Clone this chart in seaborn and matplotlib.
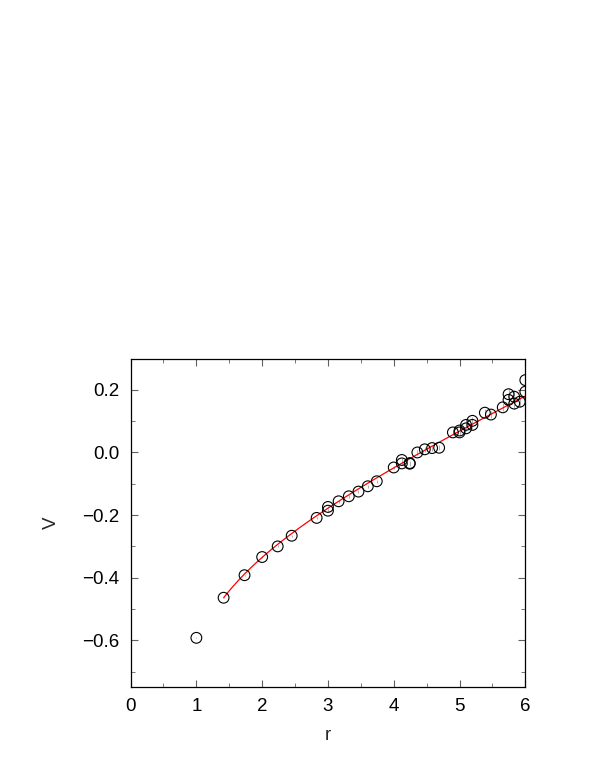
import numpy as np
import pandas as pd
import seaborn as sns
from matplotlib import pyplot as plt
from matplotlib.ticker import MultipleLocator

# lattice distances r and potential V
r_vals = [1.0, 1.414, 1.732, 2.0, 2.236, 2.449, 2.828, 3.0, 3.0, 3.162,
          3.317, 3.464, 3.606, 3.742, 4.0, 4.123, 4.123, 4.243, 4.243, 4.359,
          4.472, 4.583, 4.690, 4.899, 5.0, 5.0, 5.099, 5.099, 5.196, 5.196,
          5.385, 5.477, 5.657, 5.745, 5.745, 5.831, 5.831, 5.916, 6.0, 6.0]
v_vals = [-0.592, -0.464, -0.392, -0.334, -0.300, -0.266, -0.209, -0.174, -0.186, -0.156,
          -0.140, -0.125, -0.108, -0.092, -0.048, -0.035, -0.024, -0.036, -0.034, 0.000,
          0.010, 0.014, 0.015, 0.064, 0.064, 0.070, 0.077, 0.088, 0.088, 0.101,
          0.127, 0.121, 0.144, 0.186, 0.168, 0.178, 0.156, 0.162, 0.194, 0.231]
v_err = [0.002, 0.002, 0.002, 0.002, 0.003, 0.003, 0.003, 0.004, 0.004, 0.004,
         0.004, 0.005, 0.005, 0.005, 0.006, 0.006, 0.006, 0.007, 0.007, 0.007,
         0.008, 0.008, 0.008, 0.009, 0.009, 0.009, 0.010, 0.010, 0.014, 0.012,
         0.012, 0.012, 0.013, 0.020, 0.015, 0.022, 0.016, 0.016, 0.017, 0.017]

# fitted curve V(r) = V0 - e/r + sigma*r, parameters
fit_v0 = -0.3665
fit_e = 0.339
fit_sigma = 0.1005
fit_rmin, fit_rmax = 1.414, 6.0

sns.set_theme(style="ticks")
plt.rcParams['font.family'] = ['Liberation Sans', 'DejaVu Sans']

df = pd.DataFrame({'r': r_vals, 'V': v_vals, 'err': v_err})
r_fit = np.linspace(fit_rmin, fit_rmax, 200)
fit_df = pd.DataFrame({'r': r_fit, 'V': fit_v0 - fit_e / r_fit + fit_sigma * r_fit})

fig = plt.figure(figsize=(5.99, 7.76), dpi=100)
ax = fig.add_axes([0.218, 0.1143, 0.659, 0.4237])

ax.errorbar(df['r'], df['V'], yerr=df['err'], fmt='none',
            ecolor='#b0b0b0', elinewidth=0.7, capsize=0, zorder=1)
sns.lineplot(data=fit_df, x='r', y='V', color='red', linewidth=0.9, ax=ax, zorder=2)
sns.scatterplot(data=df, x='r', y='V', marker='o', s=60,
                facecolors='none', edgecolor='black', linewidth=0.8, ax=ax, zorder=3)

ax.set_xlim(0, 6)
ax.set_ylim(-0.75, 0.3)
ax.xaxis.set_major_locator(MultipleLocator(1))
ax.xaxis.set_minor_locator(MultipleLocator(0.5))
ax.yaxis.set_major_locator(MultipleLocator(0.2))
ax.yaxis.set_minor_locator(MultipleLocator(0.1))
ax.set_yticks([-0.6, -0.4, -0.2, 0.0, 0.2])
ax.set_yticklabels(['\u22120.6', '\u22120.4', '\u22120.2', '0.0', '0.2'])
ax.tick_params(which='both', direction='in', top=True, right=True,
               color='#606060', labelsize=13.5, labelcolor='black')
ax.tick_params(which='major', length=5, width=0.8, pad=8)
ax.tick_params(which='minor', length=3, width=0.6)
for sp in ax.spines.values():
    sp.set_color('black')
    sp.set_linewidth(0.9)

ax.set_xlabel('r', fontsize=13.5, labelpad=8)
ax.set_ylabel('V', fontsize=13.5, labelpad=16)

plt.savefig('out.png', dpi=100)
